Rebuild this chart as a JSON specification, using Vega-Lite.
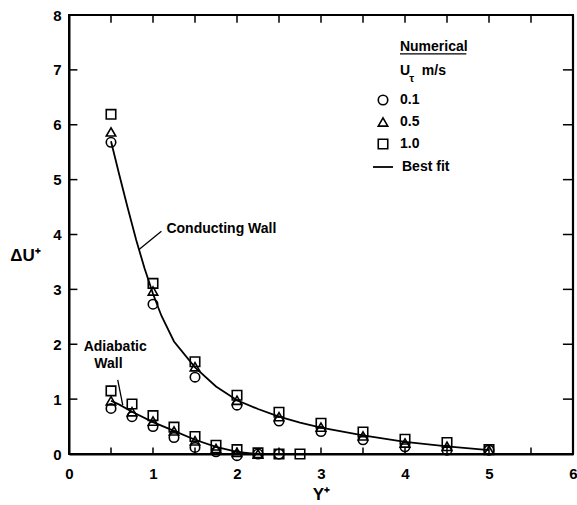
{
  "$schema": "https://vega.github.io/schema/vega-lite/v6.json",
  "width": 504,
  "height": 439,
  "autosize": {"type": "none"},
  "padding": {"left": 69, "top": 15, "right": 4, "bottom": 51},
  "background": "white",
  "config": {
    "view": {"stroke": "black", "strokeWidth": 2},
    "font": "Liberation Sans",
    "axis": {
      "domainColor": "black", "domainWidth": 2, "ticks": false,
      "grid": false, "labelColor": "black", "labelFontWeight": "bold", "labelFontSize": 15,
      "labelFont": "Liberation Sans", "titleFont": "Liberation Sans", "labelFlush": false,
      "titleColor": "black", "titleFontWeight": "bold", "titleFontSize": 17
    },
    "legend": {
      "labelFont": "Liberation Sans",
      "labelFontWeight": "bold", "labelFontSize": 14, "labelColor": "black", "padding": 0
    }
  },
  "datasets": {
    "pts": [
      {"wall": "Conducting", "ut": "0.1", "x": 0.5, "y": 5.68},
      {"wall": "Conducting", "ut": "0.5", "x": 0.5, "y": 5.87},
      {"wall": "Conducting", "ut": "1.0", "x": 0.5, "y": 6.19},
      {"wall": "Conducting", "ut": "0.1", "x": 1.0, "y": 2.73},
      {"wall": "Conducting", "ut": "0.5", "x": 1.0, "y": 2.97},
      {"wall": "Conducting", "ut": "1.0", "x": 1.0, "y": 3.11},
      {"wall": "Conducting", "ut": "0.1", "x": 1.5, "y": 1.40},
      {"wall": "Conducting", "ut": "0.5", "x": 1.5, "y": 1.59},
      {"wall": "Conducting", "ut": "1.0", "x": 1.5, "y": 1.68},
      {"wall": "Conducting", "ut": "0.1", "x": 2.0, "y": 0.89},
      {"wall": "Conducting", "ut": "0.5", "x": 2.0, "y": 0.98},
      {"wall": "Conducting", "ut": "1.0", "x": 2.0, "y": 1.07},
      {"wall": "Conducting", "ut": "0.1", "x": 2.5, "y": 0.60},
      {"wall": "Conducting", "ut": "0.5", "x": 2.5, "y": 0.68},
      {"wall": "Conducting", "ut": "1.0", "x": 2.5, "y": 0.76},
      {"wall": "Conducting", "ut": "0.1", "x": 3.0, "y": 0.41},
      {"wall": "Conducting", "ut": "0.5", "x": 3.0, "y": 0.49},
      {"wall": "Conducting", "ut": "1.0", "x": 3.0, "y": 0.56},
      {"wall": "Conducting", "ut": "0.1", "x": 3.5, "y": 0.26},
      {"wall": "Conducting", "ut": "0.5", "x": 3.5, "y": 0.33},
      {"wall": "Conducting", "ut": "1.0", "x": 3.5, "y": 0.40},
      {"wall": "Conducting", "ut": "0.1", "x": 4.0, "y": 0.13},
      {"wall": "Conducting", "ut": "0.5", "x": 4.0, "y": 0.20},
      {"wall": "Conducting", "ut": "1.0", "x": 4.0, "y": 0.27},
      {"wall": "Conducting", "ut": "0.1", "x": 4.5, "y": 0.07},
      {"wall": "Conducting", "ut": "0.5", "x": 4.5, "y": 0.14},
      {"wall": "Conducting", "ut": "1.0", "x": 4.5, "y": 0.21},
      {"wall": "Conducting", "ut": "0.1", "x": 5.0, "y": 0.07},
      {"wall": "Conducting", "ut": "0.5", "x": 5.0, "y": 0.07},
      {"wall": "Conducting", "ut": "1.0", "x": 5.0, "y": 0.08},
      {"wall": "Adiabatic", "ut": "0.1", "x": 0.5, "y": 0.83},
      {"wall": "Adiabatic", "ut": "0.5", "x": 0.5, "y": 0.97},
      {"wall": "Adiabatic", "ut": "1.0", "x": 0.5, "y": 1.15},
      {"wall": "Adiabatic", "ut": "0.1", "x": 0.75, "y": 0.68},
      {"wall": "Adiabatic", "ut": "0.5", "x": 0.75, "y": 0.77},
      {"wall": "Adiabatic", "ut": "1.0", "x": 0.75, "y": 0.91},
      {"wall": "Adiabatic", "ut": "0.1", "x": 1.0, "y": 0.50},
      {"wall": "Adiabatic", "ut": "0.5", "x": 1.0, "y": 0.60},
      {"wall": "Adiabatic", "ut": "1.0", "x": 1.0, "y": 0.70},
      {"wall": "Adiabatic", "ut": "0.1", "x": 1.25, "y": 0.30},
      {"wall": "Adiabatic", "ut": "0.5", "x": 1.25, "y": 0.42},
      {"wall": "Adiabatic", "ut": "1.0", "x": 1.25, "y": 0.49},
      {"wall": "Adiabatic", "ut": "0.1", "x": 1.5, "y": 0.12},
      {"wall": "Adiabatic", "ut": "0.5", "x": 1.5, "y": 0.24},
      {"wall": "Adiabatic", "ut": "1.0", "x": 1.5, "y": 0.32},
      {"wall": "Adiabatic", "ut": "0.1", "x": 1.75, "y": 0.04},
      {"wall": "Adiabatic", "ut": "0.5", "x": 1.75, "y": 0.10},
      {"wall": "Adiabatic", "ut": "1.0", "x": 1.75, "y": 0.16},
      {"wall": "Adiabatic", "ut": "0.1", "x": 2.0, "y": -0.03},
      {"wall": "Adiabatic", "ut": "0.5", "x": 2.0, "y": 0.03},
      {"wall": "Adiabatic", "ut": "1.0", "x": 2.0, "y": 0.08},
      {"wall": "Adiabatic", "ut": "0.1", "x": 2.25, "y": 0.0},
      {"wall": "Adiabatic", "ut": "0.5", "x": 2.25, "y": 0.0},
      {"wall": "Adiabatic", "ut": "1.0", "x": 2.25, "y": 0.02},
      {"wall": "Adiabatic", "ut": "0.1", "x": 2.5, "y": 0.0},
      {"wall": "Adiabatic", "ut": "1.0", "x": 2.5, "y": 0.0},
      {"wall": "Adiabatic", "ut": "1.0", "x": 2.75, "y": 0.0}
    ],
    "fit": [
      {"wall": "Conducting", "fit": "Best fit", "x": 0.5, "y": 5.7},
      {"wall": "Conducting", "fit": "Best fit", "x": 0.6, "y": 5.08},
      {"wall": "Conducting", "fit": "Best fit", "x": 0.7, "y": 4.48},
      {"wall": "Conducting", "fit": "Best fit", "x": 0.8, "y": 3.9},
      {"wall": "Conducting", "fit": "Best fit", "x": 0.9, "y": 3.38},
      {"wall": "Conducting", "fit": "Best fit", "x": 1.0, "y": 2.92},
      {"wall": "Conducting", "fit": "Best fit", "x": 1.1, "y": 2.52},
      {"wall": "Conducting", "fit": "Best fit", "x": 1.25, "y": 2.05},
      {"wall": "Conducting", "fit": "Best fit", "x": 1.5, "y": 1.58},
      {"wall": "Conducting", "fit": "Best fit", "x": 1.75, "y": 1.23},
      {"wall": "Conducting", "fit": "Best fit", "x": 2.0, "y": 0.98},
      {"wall": "Conducting", "fit": "Best fit", "x": 2.25, "y": 0.82},
      {"wall": "Conducting", "fit": "Best fit", "x": 2.5, "y": 0.68},
      {"wall": "Conducting", "fit": "Best fit", "x": 2.75, "y": 0.57},
      {"wall": "Conducting", "fit": "Best fit", "x": 3.0, "y": 0.48},
      {"wall": "Conducting", "fit": "Best fit", "x": 3.5, "y": 0.34},
      {"wall": "Conducting", "fit": "Best fit", "x": 4.0, "y": 0.22},
      {"wall": "Conducting", "fit": "Best fit", "x": 4.5, "y": 0.14},
      {"wall": "Conducting", "fit": "Best fit", "x": 5.0, "y": 0.07},
      {"wall": "Adiabatic", "fit": "Best fit", "x": 0.5, "y": 0.97},
      {"wall": "Adiabatic", "fit": "Best fit", "x": 0.6, "y": 0.9},
      {"wall": "Adiabatic", "fit": "Best fit", "x": 0.75, "y": 0.77},
      {"wall": "Adiabatic", "fit": "Best fit", "x": 1.0, "y": 0.58},
      {"wall": "Adiabatic", "fit": "Best fit", "x": 1.25, "y": 0.42},
      {"wall": "Adiabatic", "fit": "Best fit", "x": 1.5, "y": 0.26},
      {"wall": "Adiabatic", "fit": "Best fit", "x": 1.75, "y": 0.13},
      {"wall": "Adiabatic", "fit": "Best fit", "x": 2.0, "y": 0.04},
      {"wall": "Adiabatic", "fit": "Best fit", "x": 2.25, "y": 0.0},
      {"wall": "Adiabatic", "fit": "Best fit", "x": 3.0, "y": 0.0}
    ],
    "edges": [
      {"x": 0, "y": 8, "x2": 6, "y2": 8},
      {"x": 6, "y": 0, "x2": 6, "y2": 8}
    ],
    "ticks": [
      {"x": 0.5, "y": 0, "x2": 0.5, "y2": 0.12},
      {"x": 1, "y": 0, "x2": 1, "y2": 0.12},
      {"x": 1.5, "y": 0, "x2": 1.5, "y2": 0.12},
      {"x": 2, "y": 0, "x2": 2, "y2": 0.12},
      {"x": 2.5, "y": 0, "x2": 2.5, "y2": 0.12},
      {"x": 3, "y": 0, "x2": 3, "y2": 0.12},
      {"x": 3.5, "y": 0, "x2": 3.5, "y2": 0.12},
      {"x": 4, "y": 0, "x2": 4, "y2": 0.12},
      {"x": 4.5, "y": 0, "x2": 4.5, "y2": 0.12},
      {"x": 5, "y": 0, "x2": 5, "y2": 0.12},
      {"x": 5.5, "y": 0, "x2": 5.5, "y2": 0.12},
      {"x": 0.5, "y": 8, "x2": 0.5, "y2": 7.86},
      {"x": 1, "y": 8, "x2": 1, "y2": 7.86},
      {"x": 1.5, "y": 8, "x2": 1.5, "y2": 7.86},
      {"x": 2, "y": 8, "x2": 2, "y2": 7.86},
      {"x": 2.5, "y": 8, "x2": 2.5, "y2": 7.86},
      {"x": 3, "y": 8, "x2": 3, "y2": 7.86},
      {"x": 3.5, "y": 8, "x2": 3.5, "y2": 7.86},
      {"x": 4, "y": 8, "x2": 4, "y2": 7.86},
      {"x": 4.5, "y": 8, "x2": 4.5, "y2": 7.86},
      {"x": 5, "y": 8, "x2": 5, "y2": 7.86},
      {"x": 5.5, "y": 8, "x2": 5.5, "y2": 7.86},
      {"x": 0, "y": 1, "x2": 0.1, "y2": 1},
      {"x": 0, "y": 2, "x2": 0.1, "y2": 2},
      {"x": 0, "y": 3, "x2": 0.1, "y2": 3},
      {"x": 0, "y": 4, "x2": 0.1, "y2": 4},
      {"x": 0, "y": 5, "x2": 0.1, "y2": 5},
      {"x": 0, "y": 6, "x2": 0.1, "y2": 6},
      {"x": 0, "y": 7, "x2": 0.1, "y2": 7},
      {"x": 6, "y": 1, "x2": 5.88, "y2": 1},
      {"x": 6, "y": 2, "x2": 5.88, "y2": 2},
      {"x": 6, "y": 3, "x2": 5.88, "y2": 3},
      {"x": 6, "y": 4, "x2": 5.88, "y2": 4},
      {"x": 6, "y": 5, "x2": 5.88, "y2": 5},
      {"x": 6, "y": 6, "x2": 5.88, "y2": 6},
      {"x": 6, "y": 7, "x2": 5.88, "y2": 7}
    ],
    "notesLeft": [
      {"text": "Conducting Wall", "x": 1.16, "y": 4.1},
      {"text": "Numerical", "x": 3.94, "y": 7.41},
      {"text": "U", "x": 3.94, "y": 6.98},
      {"text": "m/s", "x": 4.2, "y": 6.98}
    ],
    "notesCenter": [
      {"text": "Adiabatic", "x": 0.55, "y": 1.95},
      {"text": "Wall", "x": 0.47, "y": 1.64}
    ],
    "leaders": [
      {"x": 1.10, "y": 4.06, "x2": 0.83, "y2": 3.72},
      {"x": 0.58, "y": 1.35, "x2": 0.64, "y2": 0.89},
      {"x": 3.94, "y": 7.29, "x2": 4.73, "y2": 7.29}
    ],
    "sub": [
      {"text": "τ", "x": 4.05, "y": 6.84}
    ]
  },
  "layer": [
    {
      "data": {"name": "fit"},
      "mark": {"type": "line", "strokeWidth": 1.8},
      "encoding": {
        "x": {"field": "x", "type": "quantitative", "scale": {"domain": [0, 6], "nice": false},
          "axis": {"values": [0, 1, 2, 3, 4, 5, 6], "format": "d", "labelPadding": 12,
            "title": "Y⁺", "titlePadding": 0, "titleY": 40, "titleBaseline": "middle"}},
        "y": {"field": "y", "type": "quantitative", "scale": {"domain": [0, 8], "nice": false},
          "axis": {"values": [0, 1, 2, 3, 4, 5, 6, 7, 8], "format": "d", "labelPadding": 8,
            "title": "ΔU⁺", "titleAngle": 0, "titleX": -44, "titleY": 240, "titleAlign": "center", "titleBaseline": "middle"}},
        "detail": {"field": "wall"},
        "color": {"field": "fit", "type": "nominal", "scale": {"range": ["black"]},
          "legend": {"orient": "none", "legendX": 303, "legendY": 141, "title": null,
            "symbolType": "stroke", "symbolSize": 400, "symbolStrokeWidth": 1.8, "labelOffset": 8}}
      }
    },
    {
      "data": {"name": "edges"},
      "mark": {"type": "rule", "color": "black", "strokeWidth": 2.2},
      "encoding": {
        "x": {"field": "x", "type": "quantitative"},
        "y": {"field": "y", "type": "quantitative"},
        "x2": {"field": "x2"},
        "y2": {"field": "y2"}
      }
    },
    {
      "data": {"name": "ticks"},
      "mark": {"type": "rule", "color": "black", "strokeWidth": 1.5},
      "encoding": {
        "x": {"field": "x", "type": "quantitative"},
        "y": {"field": "y", "type": "quantitative"},
        "x2": {"field": "x2"},
        "y2": {"field": "y2"}
      }
    },
    {
      "data": {"name": "pts"},
      "mark": {"type": "point", "filled": false, "stroke": "black", "strokeWidth": 1.6, "size": 90, "opacity": 1},
      "encoding": {
        "x": {"field": "x", "type": "quantitative"},
        "y": {"field": "y", "type": "quantitative"},
        "shape": {"field": "ut", "type": "nominal",
          "scale": {"domain": ["0.1", "0.5", "1.0"], "range": ["circle", "triangle-up", "square"]},
          "legend": {"orient": "none", "legendX": 307, "legendY": 78, "title": null,
            "symbolFillColor": "transparent", "symbolStrokeColor": "black", "symbolStrokeWidth": 1.6,
            "symbolSize": 90, "labelOffset": 10, "rowPadding": 6}}
      }
    },
    {
      "data": {"name": "leaders"},
      "mark": {"type": "rule", "color": "black", "strokeWidth": 1.3},
      "encoding": {
        "x": {"field": "x", "type": "quantitative"},
        "y": {"field": "y", "type": "quantitative"},
        "x2": {"field": "x2"},
        "y2": {"field": "y2"}
      }
    },
    {
      "data": {"name": "notesLeft"},
      "mark": {"type": "text", "fontWeight": "bold", "fontSize": 14, "color": "black", "baseline": "middle", "align": "left", "font": "Liberation Sans"},
      "encoding": {
        "x": {"field": "x", "type": "quantitative"},
        "y": {"field": "y", "type": "quantitative"},
        "text": {"field": "text"}
      }
    },
    {
      "data": {"name": "notesCenter"},
      "mark": {"type": "text", "fontWeight": "bold", "fontSize": 14, "color": "black", "baseline": "middle", "align": "center", "font": "Liberation Sans"},
      "encoding": {
        "x": {"field": "x", "type": "quantitative"},
        "y": {"field": "y", "type": "quantitative"},
        "text": {"field": "text"}
      }
    },
    {
      "data": {"name": "sub"},
      "mark": {"type": "text", "fontWeight": "bold", "fontSize": 11, "color": "black", "baseline": "middle", "align": "left", "font": "Liberation Sans"},
      "encoding": {
        "x": {"field": "x", "type": "quantitative"},
        "y": {"field": "y", "type": "quantitative"},
        "text": {"field": "text"}
      }
    }
  ]
}
